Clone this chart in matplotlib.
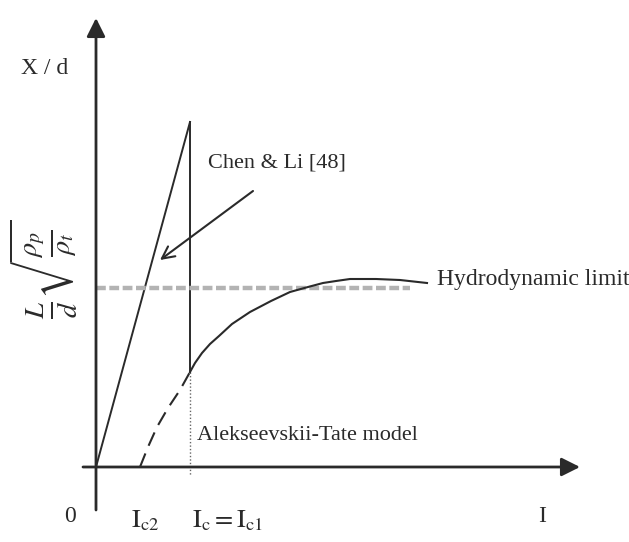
import matplotlib
matplotlib.use("Agg")
import matplotlib.pyplot as plt

# ---- schematic data (x = impact function I, y = X/d), arbitrary units ----
I_c2 = 44
I_c1 = 94
chen_x = [0, I_c1]
chen_y = [0, 345]
vline_top = 345
vline_solid_bottom = 95
vline_dotted_bottom = -8
hydro_level = 179
hydro_x = [0, 314]
at_dashed_x = [44, 52, 61, 72, 84, 94]
at_dashed_y = [0, 20, 40, 59, 77, 95]
at_solid_x = [94, 99, 106, 114, 123, 136, 154, 175, 194, 212, 227, 240, 254, 280, 304, 331]
at_solid_y = [95, 104, 114, 123, 131, 143, 155, 166, 175, 180, 184, 186, 188, 188, 187, 184]
yaxis_span = [-43, 449]
xaxis_span = [-13, 484]

plt.rcParams['mathtext.fontset'] = 'stix'
serif = ['Liberation Serif', 'DejaVu Serif']

fig = plt.figure(figsize=(6.29, 5.42), dpi=100)
ax = fig.add_axes([0, 0, 1, 1])
ax.set_xlim(-96, 533)
ax.set_ylim(-75, 467)
ax.axis('off')

ink = '#2a2a2a'
# axes with arrows
ax.annotate('', xy=(0, yaxis_span[1]), xytext=(0, yaxis_span[0]),
            arrowprops=dict(arrowstyle='-|>', lw=2, color=ink, mutation_scale=28,
                            shrinkA=0, shrinkB=0))
ax.annotate('', xy=(xaxis_span[1], 0), xytext=(xaxis_span[0], 0),
            arrowprops=dict(arrowstyle='-|>', lw=2, color=ink, mutation_scale=28,
                            shrinkA=0, shrinkB=0))

# Chen & Li line and vertical
ax.plot(chen_x, chen_y, color=ink, lw=1.4)
ax.plot([I_c1, I_c1], [vline_top, vline_solid_bottom], color=ink, lw=1.4)
ax.plot([I_c1, I_c1], [vline_solid_bottom, vline_dotted_bottom], color='#666666',
        lw=1.0, linestyle=(0, (1, 1.5)))

# hydrodynamic limit
ax.plot(hydro_x, [hydro_level, hydro_level], color='#b3b3b3', lw=3.2,
        linestyle=(0, (2.2, 0.8)))

# Alekseevskii-Tate curve
ax.plot(at_dashed_x, at_dashed_y, color=ink, lw=1.5, linestyle=(0, (7, 4)))
ax.plot(at_solid_x, at_solid_y, color=ink, lw=1.5)

# Chen & Li pointer arrow
ax.annotate('', xy=(64, 207), xytext=(157, 276),
            arrowprops=dict(arrowstyle='->', lw=1.5, color=ink, mutation_scale=22,
                            shrinkA=0, shrinkB=0))

# texts
ax.text(112, 304, 'Chen & Li [48]', family=serif, fontsize=16, color=ink,
        ha='left', va='center')
ax.text(341, 187, 'Hydrodynamic limit', family=serif, fontsize=17, color=ink,
        ha='left', va='center')
ax.text(101, 32, 'Alekseevskii-Tate model', family=serif, fontsize=16, color=ink,
        ha='left', va='center')
ax.text(-51, 399, 'X / d', family=serif, fontsize=17, color=ink,
        ha='center', va='center')
ax.text(-52, 198, r'$\frac{L}{d}\sqrt{\frac{\rho_p}{\rho_t}}$', fontsize=29, color=ink,
        rotation=90, ha='center', va='center')

ax.text(-26, -50, '0', family=serif, fontsize=17, color=ink, ha='center', va='center')
ax.text(49, -53, r'$\mathrm{I}_{\mathrm{c2}}$', fontsize=19, color=ink, ha='center', va='center')
ax.text(132, -53, r'$\mathrm{I}_{\mathrm{c}}=\mathrm{I}_{\mathrm{c1}}$', fontsize=19, color=ink,
        ha='center', va='center')
ax.text(446, -50, 'I', family=serif, fontsize=17, color=ink, ha='center', va='center')

fig.savefig('out.png', dpi=100, facecolor='white')
